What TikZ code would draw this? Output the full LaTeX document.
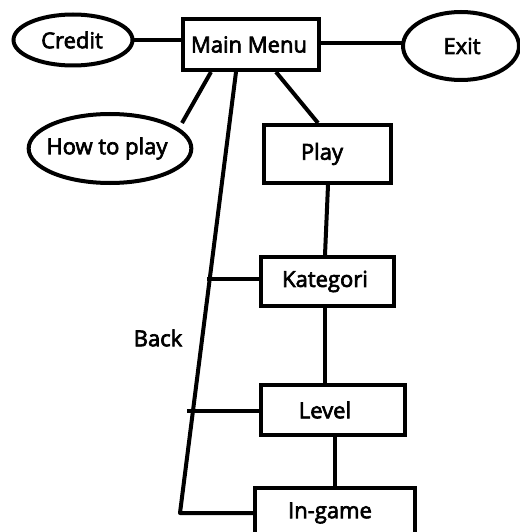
\documentclass[tikz,border=0pt]{standalone}
\usepackage{fontspec}
\setmainfont{Open Sans}
\newfontfamily\labelfont{Open Sans}[FakeBold=3]
\usetikzlibrary{shapes.geometric,calc}
\newcommand{\tshift}[1]{\hspace*{#1}}
\begin{document}
\begin{tikzpicture}[x=1pt,y=-1pt,
  every node/.style={font=\labelfont\fontsize{22}{26}\selectfont, inner sep=0pt},
  boxnode/.style={draw, rectangle, line width=4pt},
  ellnode/.style={draw, ellipse, line width=4pt},
  link/.style={line width=4pt}]
\useasboundingbox[fill=white] (0,0) rectangle (519,532);
% nodes
\node[boxnode, minimum width=136pt, minimum height=51pt] (main) at (251,44.5) {\tshift{-4pt}Main Menu};
\node[ellnode, minimum width=119pt, minimum height=51pt] (credit) at (73,40) {\tshift{-2pt}Credit};
\node[ellnode, minimum width=116pt, minimum height=68pt] (exit) at (461,46) {\tshift{2pt}Exit};
\node[ellnode, minimum width=162pt, minimum height=69pt] (howto) at (110,148.5) {\tshift{-6pt}How to play};
\node[boxnode, minimum width=127pt, minimum height=58pt] (play) at (327.5,154) {\tshift{-11pt}Play};
\node[boxnode, minimum width=133pt, minimum height=49pt] (kat) at (327.5,281.5) {\tshift{-5pt}Kategori};
\node[boxnode, minimum width=144pt, minimum height=50pt] (level) at (333,410) {\tshift{-16pt}Level};
\node[boxnode, minimum width=160pt, minimum height=50pt] (ingame) at (335,513) {\tshift{-10pt}In-game};
\node (back) at (158,338) {Back};
% helper coordinates
\coordinate (htend) at (182,123);
\coordinate (bk1) at (207,279);
\coordinate (bk2) at (187,411);
\coordinate (bk3) at (180,513);
% connectors
\draw[link] ($(credit.east)+(-3,0)$) -- ($(credit.east -| main.west)+(4,0)$);
\draw[link] ($(main.east |- 0,43)+(-2,0)$) -- ($(exit.west |- 0,43)+(3,0)$);
\draw[link] ($(main.south west)+(30,0)$) -- (htend);
\draw[link] ($(main.south west)+(95,0)$) -- ($(play.north west)+(56,0)$);
\draw[link, line join=round] ($(main.south west)+(55,0)$) -- (bk3) -- (bk3 -| ingame.west);
\draw[link] ($(play.south west)+(66,0)$) -- ($(kat.north west)+(66,0)$);
\draw[link] (bk1) -- (bk1 -| kat.west);
\draw[link] (bk2) -- (bk2 -| level.west);
\draw[link] ($(kat.south west)+(66,0)$) -- ($(level.north west)+(66,0)$);
\draw[link] ($(level.south west)+(76,0)$) -- ($(ingame.north west)+(82,0)$);
\end{tikzpicture}
\end{document}
